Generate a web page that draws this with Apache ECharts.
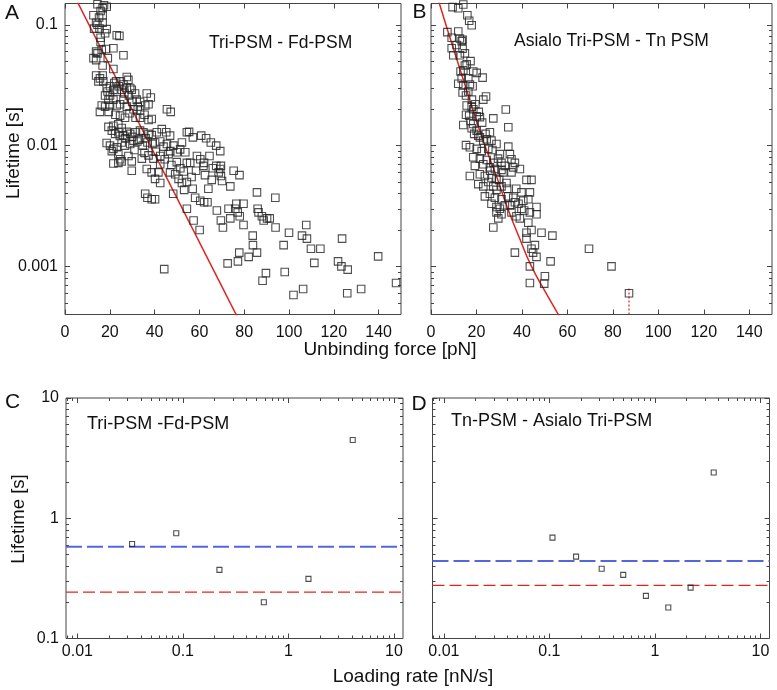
<!DOCTYPE html>
<html><head><meta charset="utf-8">
<script src="https://cdn.jsdelivr.net/npm/echarts@6/dist/echarts.min.js"></script>
<style>html,body{margin:0;padding:0;background:#fff}#c{width:777px;height:690px}</style>
</head><body><div id="c"></div>
<script>
// ---------- data ----------
const forceTicks = [0, 20, 40, 60, 80, 100, 120, 140];
const lifeTicksTop = [0.001, 0.01, 0.1];
const lifeTicksBottom = [0.1, 1, 10];
const rateTicks = [0.01, 0.1, 1, 10];

// Panel A: Tri-PSM - Fd-PSM  [force pN, lifetime s]
const panelAPoints = [
[16.4,0.154],[14.5,0.148],[18.6,0.141],[16.8,0.137],[12.7,0.120],[16.8,0.120],[13.9,0.104],[16.8,0.104],[13.0,0.093],[15.4,0.093],[18.6,0.092],[15.9,0.078],[23.1,0.082],[24.3,0.081],
[15.9,0.130],[17.4,0.145],[15.2,0.115],[14.5,0.100],[17.9,0.085],[15.9,0.072],
[13.9,0.060],[14.5,0.058],[16.4,0.062],[18.3,0.063],[21.6,0.064],[26.1,0.056],[12.7,0.053],[13.9,0.051],[19.1,0.053],[16.8,0.046],[21.6,0.043],
[13.9,0.038],[15.6,0.036],[16.8,0.038],[14.9,0.034],[17.1,0.034],[27.6,0.037],[28.3,0.035],[26.1,0.032],[29.1,0.030],[22.8,0.034],[24.6,0.034],
[18.6,0.030],[20.1,0.031],[21.6,0.029],[23.1,0.028],[25.3,0.029],[27.6,0.030],[29.8,0.029],[31.3,0.027],[36.5,0.027],[38.3,0.025],
[19.0,0.028],[22.0,0.033],[24.0,0.031],[26.5,0.027],[28.5,0.026],[30.0,0.023],[32.5,0.021],
[20.1,0.026],[21.6,0.024],[17.9,0.026],[19.4,0.024],[26.1,0.024],[32.0,0.024],[33.5,0.023],[35.8,0.0215],[37.3,0.022],[45.5,0.020],[47.2,0.019],
[16.4,0.0215],[17.9,0.021],[20.1,0.0215],[23.1,0.0215],[24.6,0.022],[27.6,0.021],[30.6,0.020],[33.5,0.0195],[15.6,0.019],[24.6,0.0177],[26.8,0.017],[33.5,0.017],[37.3,0.0163],[38.7,0.0166],
[19.5,0.019],[22.5,0.018],[28.8,0.0185],[31.5,0.017],[35.5,0.018],
[19.4,0.0143],[21.6,0.0146],[23.8,0.015],[25.3,0.014],[20.9,0.0133],[22.4,0.0125],[23.8,0.0129],[26.1,0.0121],[27.6,0.013],[29.1,0.0125],[31.3,0.0129],[33.5,0.0133],[35.0,0.0129],[37.3,0.0125],[38.7,0.0122],[41.0,0.0129],[43.2,0.0137],[45.2,0.0129],[46.9,0.0121],[54.4,0.0129],
[24.5,0.012],[27.0,0.0115],[30.0,0.0118],[33.0,0.0112],[36.0,0.0115],[39.0,0.0103],[44.0,0.0098],[47.0,0.009],
[18.6,0.0105],[20.1,0.0100],[21.6,0.0094],[23.1,0.0097],[25.3,0.0106],[26.8,0.0100],[29.1,0.0103],[30.6,0.011],[32.3,0.0108],[34.7,0.0100],[36.8,0.0106],[40.2,0.0106],[42.5,0.0108],[45.5,0.0103],[48.4,0.0100],[51.4,0.0093],[53.7,0.0088],
[31.0,0.0092],[35.5,0.0087],[40.5,0.0089],[44.5,0.0077],[47.5,0.0069],[51.5,0.0065],[53.0,0.0061],[56.5,0.0055],[58.5,0.0062],[62.5,0.0057],[65.5,0.0052],[57.0,0.0044],[64.0,0.0044],
[20.9,0.009],[23.8,0.0085],[28.3,0.0082],[24.6,0.0077],[21.6,0.0071],[23.8,0.0072],[25.3,0.0074],[29.8,0.0074],[34.3,0.0078],[37.3,0.0083],[39.5,0.0078],[42.5,0.0082],[46.2,0.0085],[49.9,0.0088],[42.5,0.007],
[29.8,0.0062],[36.5,0.0064],[38.7,0.006],[41.7,0.006],[40.2,0.0053],[42.5,0.0049],[46.9,0.006],[49.2,0.0058],[50.7,0.0053],[52.2,0.0049],[53.2,0.0043],[54.4,0.005],[54.4,0.0072],[49.9,0.0073],
[35.8,0.004],[36.8,0.0037],[38.7,0.0036],[40.2,0.0036],[54.4,0.003],
[55.4,0.013],[57.1,0.0117],[55.9,0.0072],[58.9,0.0082],[60.8,0.0121],[63.0,0.0115],[65.1,0.0106],[67.5,0.01],[69.3,0.009],[60.4,0.0077],[62.1,0.0072],[64.5,0.0082],[61.8,0.0068],[66.0,0.0065],[67.5,0.0068],[69.3,0.0064],[69.6,0.0068],[68.6,0.006],[69.6,0.0056],[70.1,0.0051],[73.8,0.0046],[75.3,0.0062],[77.9,0.0057],
[58.1,0.0037],[60.4,0.0035],[62.1,0.0034],[63.6,0.0034],[60.1,0.002],[57.4,0.0024],[67.8,0.0029],[69.6,0.0024],[70.5,0.0021],[73.0,0.003],[73.8,0.0025],[76.0,0.003],[76.5,0.0033],[77.1,0.0028],[78.0,0.0026],[79.7,0.0033],[79.7,0.0022],
[85.7,0.0041],[86.0,0.003],[86.4,0.0028],[87.9,0.0026],[88.7,0.0024],[90.2,0.0025],[91.4,0.0025],[93.9,0.0037],[94.0,0.0021],[100.0,0.0019],[83.8,0.0018],[83.9,0.0015],[85.7,0.0013],[82.0,0.0012],[77.8,0.0013],[77.2,0.0011],[72.6,0.00106],
[88.2,0.00076],[89.7,0.00088],[98.1,0.0009],[97.6,0.0015],[102.0,0.00058],[105.8,0.0018],[106.3,0.00065],[107.7,0.0022],[108.0,0.0017],[109.8,0.0014],[111.3,0.00107],[114.0,0.0014],[121.9,0.0011],[123.4,0.001],[123.7,0.0017],[126.2,0.00094],[126.0,0.0006],[132.2,0.00065],[139.8,0.00121],[147.8,0.00073],[44.3,0.00095],[48.3,0.004],[52.2,0.0106]
];
const panelAFit = [[4, 0.176], [78, 0.000349]];

// Panel B: Asialo Tri-PSM - Tn PSM
const panelBPoints = [
[9.5,0.140],[12.0,0.137],[14.2,0.147],[16.0,0.120],[16.8,0.108],[17.9,0.099],[7.2,0.087],[12.0,0.088],[9.1,0.078],[12.7,0.077],[13.5,0.073],[13.9,0.075],[9.1,0.064],[13.9,0.0635],[9.8,0.056],[14.9,0.058],
[11.3,0.068],[12.7,0.056],[14.2,0.042],[16.4,0.028],[18.0,0.024],[19.5,0.022],[21.0,0.019],[22.5,0.0155],[19.0,0.0125],[24.0,0.0125],
[17.4,0.050],[14.9,0.046],[15.7,0.047],[13.0,0.041],[18.6,0.041],[20.1,0.040],[22.7,0.0365],[13.5,0.036],[16.4,0.036],[12.0,0.0325],[14.2,0.0315],[17.1,0.032],[18.3,0.031],[13.9,0.0275],[15.4,0.026],[23.0,0.024],[24.2,0.0255],
[15.7,0.0215],[17.9,0.021],[18.6,0.020],[15.4,0.018],[16.8,0.0177],[20.1,0.0175],[17.4,0.016],[18.6,0.0151],[14.2,0.0148],[21.5,0.0172],[27.4,0.0168],[32.9,0.0199],[34.0,0.0142],[17.9,0.0139],[20.1,0.0133],[20.8,0.0121],[21.5,0.0117],[23.0,0.011],[24.5,0.0113],[25.9,0.0129],[26.6,0.011],
[15.4,0.0101],[17.1,0.0097],[20.1,0.0094],[22.3,0.009],[25.2,0.0094],[28.8,0.0103],[34.0,0.0098],[30.3,0.0085],[34.7,0.0085],[18.6,0.008],[21.5,0.0078],[24.5,0.0076],[27.4,0.0072],[31.0,0.0072],[35.4,0.0077],[36.9,0.0072],
[27.0,0.0092],[29.5,0.0078],[32.5,0.0068],[26.0,0.0062],[30.0,0.0052],[33.5,0.0044],[37.5,0.0044],[38.5,0.0033],[41.0,0.0029],
[19.3,0.0068],[23.0,0.007],[25.9,0.0066],[28.1,0.0064],[31.0,0.0063],[36.2,0.0066],[39.1,0.0064],[17.1,0.0056],[21.5,0.0058],[23.7,0.0056],[26.6,0.0054],[28.8,0.0053],[31.8,0.006],[35.4,0.006],[42.0,0.0052],[44.2,0.0052],
[20.8,0.0048],[23.0,0.0046],[25.2,0.005],[27.4,0.0046],[28.8,0.0043],[31.0,0.0046],[33.2,0.0049],[23.7,0.0038],[25.9,0.004],[28.1,0.0037],[31.0,0.0036],[34.0,0.0038],[36.2,0.0037],[39.8,0.0041],[43.5,0.0041],
[26.6,0.0033],[28.8,0.0031],[30.3,0.003],[32.5,0.0032],[34.7,0.0032],[36.9,0.0034],[40.6,0.0035],[42.8,0.0036],[28.8,0.0028],[31.0,0.0027],[35.4,0.0028],[37.6,0.0026],[39.8,0.003],[43.5,0.0028],[46.4,0.0031],
[27.4,0.0021],[29.6,0.0025],[39.1,0.0025],[42.8,0.0023],[46.4,0.0027],[42.0,0.0019],[44.2,0.002],[48.6,0.0019],[53.4,0.0018],[42.0,0.0017],[44.2,0.0014],[45.7,0.0015],[44.9,0.0013],[46.4,0.0012],[36.9,0.0013],[52.6,0.0011],
[43.5,0.001],[50.1,0.00083],[43.5,0.00073],[49.8,0.00072],[69.5,0.0014],[79.4,0.001],[87.1,0.0006]
];
const panelBFit = [[3,0.165],[8,0.082],[12.4,0.045],[18,0.021],[23.7,0.01],[28.5,0.0058],[33.5,0.0031],[39,0.0017],[44.2,0.001],[50,0.00063],[56,0.0004],[57,0.00037]];
const panelBTail = [[87.1,0.0004],[87.1,0.00068]];

// Panel C: Tri-PSM -Fd-PSM  (loading rate nN/s, lifetime s)
const panelCRate = [0.033, 0.0865, 0.222, 0.585, 1.55, 4.07];
const panelCLife = [0.61, 0.75, 0.372, 0.2, 0.313, 4.48];
const panelCBlue = 0.58;
const panelCRed = 0.243;

// Panel D: Tn-PSM - Asialo Tri-PSM
const panelDRate = [0.107, 0.179, 0.313, 0.501, 0.822, 1.34, 2.18, 3.61];
const panelDLife = [0.69, 0.48, 0.38, 0.338, 0.226, 0.181, 0.265, 2.40];
const panelDBlue = 0.44;
const panelDRed = 0.277;

// ---------- layout / styling ----------
const FONT = '"Liberation Sans", Arial, Helvetica, sans-serif';
const AX = '#444';
const forceRange = [0, 150];
const lifeRangeTop = [0.0004, 0.15];
const lifeRangeBottom = [0.1, 10];
const rateRange = [0.0078, 12.2];

function minorLog(min, max) {
  const out = [];
  for (let e = -5; e <= 2; e++) {
    for (let k = 2; k <= 9; k++) {
      const v = +(k * Math.pow(10, e)).toPrecision(3);
      if (v > min * 1.0001 && v < max / 1.0001) out.push(v);
    }
  }
  return out;
}
function fmt(v) { return String(+(+v).toPrecision(6)); }

const grids = [
  {left: 65, top: 3.5, width: 336, height: 311},
  {left: 431, top: 3.5, width: 341, height: 311},
  {left: 66, top: 398, width: 337, height: 240.5},
  {left: 432.5, top: 398, width: 337, height: 240.5}
].map(g => Object.assign({show: true, borderColor: AX, borderWidth: 1, backgroundColor: 'transparent', containLabel: false, outerBoundsMode: 'none'}, g));

const xAxes = [], yAxes = [];
function axis(list, type, gridIndex, range, position, ticks, len, labels, margin) {
  list.push({
    type, gridIndex, min: range[0], max: range[1], position,
    axisLine: {show: false}, splitLine: {show: false}, minorTick: {show: false}, minorSplitLine: {show: false},
    axisTick: {show: true, inside: true, length: len, customValues: ticks, lineStyle: {color: AX, width: 1}},
    axisLabel: labels ? {show: true, customValues: labels, margin, fontSize: 16, color: '#111', fontFamily: FONT, formatter: fmt} : {show: false}
  });
  return list.length - 1;
}
// Panel A
const axA = axis(xAxes, 'value', 0, forceRange, 'bottom', forceTicks, 5, forceTicks, 10);
axis(xAxes, 'value', 0, forceRange, 'top', forceTicks, 5, null);
const ayA = axis(yAxes, 'log', 0, lifeRangeTop, 'left', lifeTicksTop, 5, lifeTicksTop, 7);
axis(yAxes, 'log', 0, lifeRangeTop, 'left', minorLog(...lifeRangeTop), 3, null);
axis(yAxes, 'log', 0, lifeRangeTop, 'right', lifeTicksTop, 5, null);
axis(yAxes, 'log', 0, lifeRangeTop, 'right', minorLog(...lifeRangeTop), 3, null);
// Panel B
const axB = axis(xAxes, 'value', 1, forceRange, 'bottom', forceTicks, 5, forceTicks, 10);
axis(xAxes, 'value', 1, forceRange, 'top', forceTicks, 5, null);
const ayB = axis(yAxes, 'log', 1, lifeRangeTop, 'left', lifeTicksTop, 5, null);
axis(yAxes, 'log', 1, lifeRangeTop, 'left', minorLog(...lifeRangeTop), 3, null);
axis(yAxes, 'log', 1, lifeRangeTop, 'right', lifeTicksTop, 5, null);
axis(yAxes, 'log', 1, lifeRangeTop, 'right', minorLog(...lifeRangeTop), 3, null);
// Panels C, D
function logPanel(gi, yLabels) {
  const ax = axis(xAxes, 'log', gi, rateRange, 'bottom', rateTicks, 5, rateTicks, 5);
  axis(xAxes, 'log', gi, rateRange, 'bottom', minorLog(...rateRange), 3, null);
  axis(xAxes, 'log', gi, rateRange, 'top', rateTicks, 5, null);
  axis(xAxes, 'log', gi, rateRange, 'top', minorLog(...rateRange), 3, null);
  const ay = axis(yAxes, 'log', gi, lifeRangeBottom, 'left', lifeTicksBottom, 5, yLabels ? lifeTicksBottom : null, 7);
  axis(yAxes, 'log', gi, lifeRangeBottom, 'left', minorLog(...lifeRangeBottom), 3, null);
  axis(yAxes, 'log', gi, lifeRangeBottom, 'right', lifeTicksBottom, 5, null);
  axis(yAxes, 'log', gi, lifeRangeBottom, 'right', minorLog(...lifeRangeBottom), 3, null);
  return [ax, ay];
}
const [axC, ayC] = logPanel(2, true);
const [axD, ayD] = logPanel(3, false);

const sqStyle = {color: 'rgba(0,0,0,0)', borderColor: '#222', borderWidth: 1.1};
function scatter(xi, yi, data, size) {
  return {type: 'scatter', xAxisIndex: xi, yAxisIndex: yi, data, symbol: 'rect', symbolSize: size, itemStyle: sqStyle, silent: true, clip: true, z: 3};
}
function line(xi, yi, data, color, width, type, smooth) {
  return {type: 'line', xAxisIndex: xi, yAxisIndex: yi, data, symbol: 'none', showSymbol: false, smooth: !!smooth, clip: true, silent: true,
    lineStyle: {color, width, type}, z: 2};
}
const zip = (a, b) => a.map((v, i) => [v, b[i]]);
const hline = (v) => [[rateRange[0], v], [rateRange[1], v]];
const RED = '#e0241f', BLUE = '#5566dd';

const series = [
  line(axA, ayA, panelAFit, RED, 1.5, 'solid'),
  scatter(axA, ayA, panelAPoints, 7.5),
  line(axB, ayB, panelBFit, RED, 1.5, 'solid', 0.4),
  line(axB, ayB, panelBTail, RED, 1.2, [2, 2]),
  scatter(axB, ayB, panelBPoints, 7.5),
  line(axC, ayC, hline(panelCBlue), BLUE, 2, [16, 5]),
  line(axC, ayC, hline(panelCRed), RED, 1.3, [12, 5]),
  scatter(axC, ayC, zip(panelCRate, panelCLife), 5),
  line(axD, ayD, hline(panelDBlue), BLUE, 2, [16, 5]),
  line(axD, ayD, hline(panelDRed), RED, 1.3, [12, 5]),
  scatter(axD, ayD, zip(panelDRate, panelDLife), 5)
];

function txt(text, x, y, size, align, rot) {
  return {type: 'text', x, y, rotation: rot || 0, silent: true,
    style: {text, fontSize: size, fontFamily: FONT, fill: '#111', align: align || 'center', verticalAlign: 'middle'}};
}
const graphics = [
  txt('A', 12, 13, 21), txt('B', 419.5, 12.5, 21), txt('C', 12.5, 402, 21), txt('D', 419, 404, 21),
  txt('Tri-PSM - Fd-PSM', 209, 43, 17.5, 'left'),
  txt('Asialo Tri-PSM - Tn PSM', 514, 41.5, 17.5, 'left'),
  txt('Tri-PSM -Fd-PSM', 87, 424.5, 18, 'left'),
  txt('Tn-PSM - Asialo Tri-PSM', 451, 421, 18, 'left'),
  txt('Lifetime [s]', 14, 153, 19, 'center', Math.PI / 2),
  txt('Lifetime [s]', 19, 519, 18.5, 'center', Math.PI / 2),
  txt('Unbinding force [pN]', 390, 350, 19),
  txt('Loading rate [nN/s]', 413, 677, 19)
];

const chart = echarts.init(document.getElementById('c'), null, {renderer: 'canvas'});
chart.setOption({
  animation: false,
  backgroundColor: '#fff',
  textStyle: {fontFamily: FONT},
  grid: grids, xAxis: xAxes, yAxis: yAxes, series,
  graphic: graphics
});
</script></body></html>
